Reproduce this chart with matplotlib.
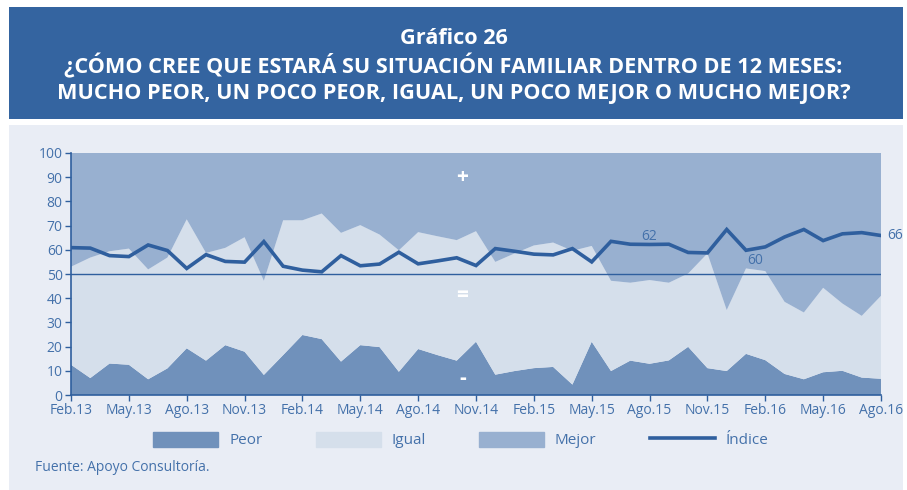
import numpy as np
import matplotlib.pyplot as plt
from matplotlib.patches import Rectangle
from matplotlib.lines import Line2D

plt.rcParams['font.family'] = ['Open Sans', 'DejaVu Sans']

# datos mensuales Feb.13 - Ago.16
meses = ["Feb.13", "May.13", "Ago.13", "Nov.13", "Feb.14", "May.14", "Ago.14", "Nov.14",
         "Feb.15", "May.15", "Ago.15", "Nov.15", "Feb.16", "May.16", "Ago.16"]
peor = [12.5, 7, 13, 12.5, 6.5, 11, 19.3, 14.2, 20.6, 17.9, 8.3, 16.5, 24.8, 23.1, 13.8,
        20.6, 19.8, 9.6, 19, 16.5, 14.2, 22, 8.4, 9.9, 11.1, 11.6, 4.3, 22, 9.9, 14.2,
        12.9, 14.3, 19.9, 11.1, 9.9, 17, 14.4, 8.7, 6.5, 9.4, 10, 7.2, 6.7]
igual = [40.5, 49.8, 46.4, 48, 45.4, 45.8, 53.3, 44.5, 40.2, 47.3, 38.9, 55.7, 47.4, 51.9,
         53.2, 49.6, 46.5, 50.2, 48.3, 49.1, 49.8, 45.7, 46.6, 48.6, 50.7, 51.4, 55.3, 39.6,
         37.3, 32.2, 34.6, 32.1, 30.3, 47.4, 25.2, 35.3, 36.8, 29.8, 27.6, 34.9, 27.8, 25.5, 34.3]
mejor = [47, 43.2, 40.6, 39.5, 48.1, 43.2, 27.4, 41.3, 39.2, 34.8, 52.8, 27.8, 27.8, 25,
         33, 29.8, 33.7, 40.2, 32.7, 34.4, 36, 32.3, 45, 41.5, 38.2, 37, 40.4, 38.4, 52.8,
         53.6, 52.5, 53.6, 49.8, 41.5, 64.9, 47.7, 48.8, 61.5, 65.9, 55.7, 62.2, 67.3, 59]
indice = [60.9, 60.7, 57.6, 57.2, 62, 59.7, 52.3, 58, 55.2, 54.9, 63.4, 53.2, 51.6, 50.9,
          57.6, 53.4, 54.1, 59, 54.2, 55.4, 56.7, 53.5, 60.5, 59.4, 58.2, 57.9, 60.5, 55,
          63.5, 62.3, 62.2, 62.3, 58.9, 58.7, 68.4, 59.8, 61.2, 65.3, 68.4, 63.8, 66.6, 67.1, 65.9]

c_peor = "#7091bb"
c_igual = "#d5dfeb"
c_mejor = "#98b0d0"
c_linea = "#2f5f9e"
c_texto = "#4471aa"

fig = plt.figure(figsize=(9.07, 4.90), dpi=100)
fig.patches.append(Rectangle((9/907, 1-119/490), 894/907, 112/490, transform=fig.transFigure,
                             facecolor="#3464a0", edgecolor="none", zorder=-10))
fig.patches.append(Rectangle((9/907, 0), 894/907, 1-125/490, transform=fig.transFigure,
                             facecolor="#e9edf5", edgecolor="none", zorder=-10))

titulo = ["Gráfico 26",
          "¿CÓMO CREE QUE ESTARÁ SU SITUACIÓN FAMILIAR DENTRO DE 12 MESES:",
          "MUCHO PEOR, UN POCO PEOR, IGUAL, UN POCO MEJOR O MUCHO MEJOR?"]
for yy, t in zip([39, 66, 93], titulo):
    fig.text(0.5, 1-yy/490, t, ha="center", va="center", color="white",
             fontsize=15.6, fontweight="bold")

ax = fig.add_axes([71/907, 1-395/490, 810/907, 242/490])
ax.set_facecolor("none")
x = np.arange(len(peor))
ax.stackplot(x, peor, igual, mejor, colors=[c_peor, c_igual, c_mejor], linewidth=0)
ax.axhline(50, color=c_linea, lw=1)
ax.plot(x, indice, color=c_linea, lw=2.6, solid_joinstyle="miter")

ax.set_xlim(0, len(peor) - 1)
ax.set_ylim(0, 100)
ax.set_yticks(range(0, 101, 10))
ax.set_xticks(x[::3])
ax.set_xticklabels(meses)
for s in ["top", "right"]:
    ax.spines[s].set_visible(False)
for s in ["left", "bottom"]:
    ax.spines[s].set_color(c_linea)
    ax.spines[s].set_linewidth(1.2)
ax.tick_params(colors=c_linea, labelcolor=c_texto, labelsize=10, length=4, width=1, pad=2)

ax.text(30, 65.5, "62", color=c_texto, fontsize=10, ha="center", va="center")
ax.text(35.5, 55.5, "60", color=c_texto, fontsize=10, ha="center", va="center")
ax.text(42.3, 66, "66", color=c_texto, fontsize=10, ha="left", va="center", clip_on=False)
ax.text(20.3, 90, "+", color="white", fontsize=15, fontweight="bold", ha="center", va="center")
ax.text(20.3, 41, "=", color="white", fontsize=15, fontweight="bold", ha="center", va="center")
ax.text(20.3, 7, "-", color="white", fontsize=15, fontweight="bold", ha="center", va="center")

handles = [Rectangle((0, 0), 1, 1, color=c_peor), Rectangle((0, 0), 1, 1, color=c_igual),
           Rectangle((0, 0), 1, 1, color=c_mejor), Line2D([], [], color=c_linea, lw=2.6)]
leg = fig.legend(handles, ["Peor", "Igual", "Mejor", "Índice"], loc="center",
                 bbox_to_anchor=(461/907, 1-440/490), ncol=4, frameon=False,
                 handlelength=4.25, handleheight=1.2, handletextpad=0.7, columnspacing=3.5,
                 fontsize=11)
for t in leg.get_texts():
    t.set_color(c_texto)

fig.text(35/907, 1-467/490, "Fuente: Apoyo Consultoría.", color=c_texto, fontsize=10,
         ha="left", va="center")

fig.savefig("out.png", dpi=100)
